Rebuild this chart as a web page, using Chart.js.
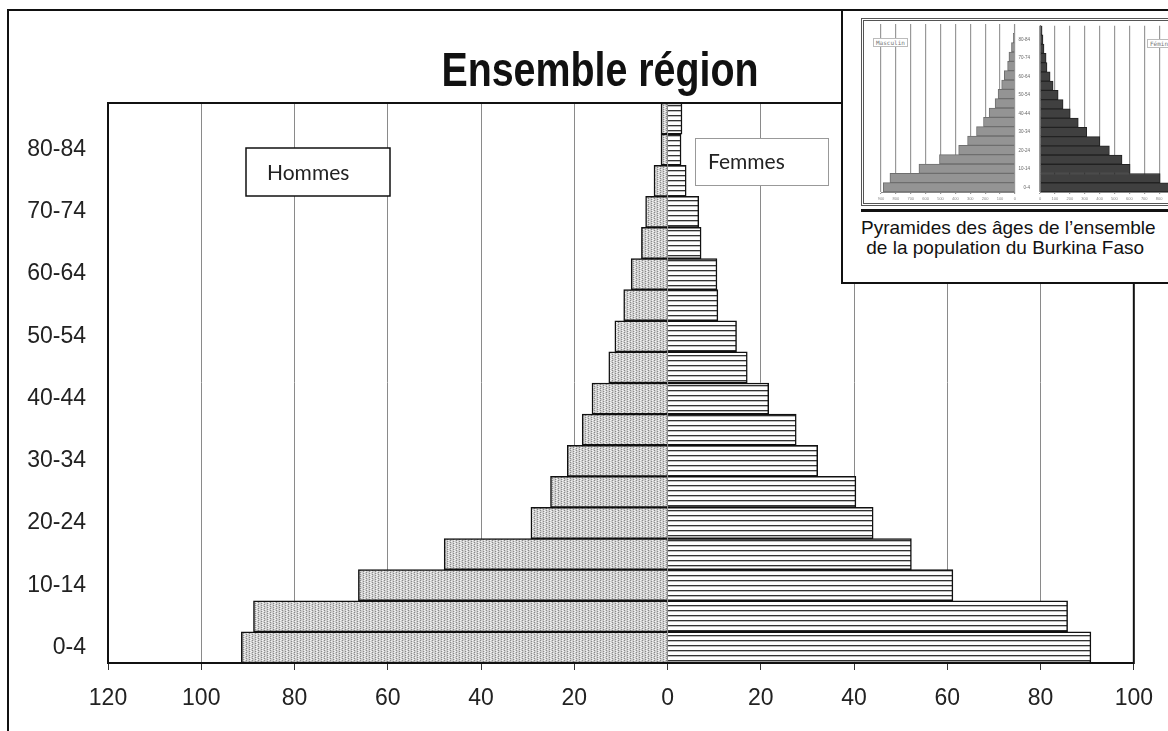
<!DOCTYPE html>
<html>
<head>
<meta charset="utf-8">
<script src="https://cdn.jsdelivr.net/npm/chart.js@4.4.1/dist/chart.umd.min.js"></script>
<style>
html, body { margin: 0; padding: 0; background: #fff; }
body { width: 1168px; height: 731px; position: relative; overflow: hidden; }
#page { position: absolute; left: 7px; top: 9px; width: 2000px; height: 2000px; border-left: 2px solid #111; border-top: 2px solid #111; }
#main { position: absolute; left: 0; top: 0; }
#inset { position: absolute; left: 841px; top: 9px; width: 340px; height: 271px; border: 2px solid #111; background: #fff; overflow: hidden; }
#pic { position: absolute; left: 18px; top: 7px; width: 330px; height: 182px; border: 3px double #555; overflow: hidden; background: #fff; }
#pic canvas { position: absolute; top: 0; }
#rule { position: absolute; left: 18px; top: 198px; width: 330px; border-top: 3px solid #111; }
#caption { position: absolute; left: 18px; top: 207px; font: 19px "Liberation Sans", Arial, sans-serif; line-height: 20px; color: #111; white-space: nowrap; }
.tag { position: absolute; font: 6px "DejaVu Sans Mono", monospace; color: #777; border: 1px solid #bbb; padding: 0 2px; background: #fff; line-height: 7px; }
</style>
</head>
<body>
<div id="page"></div>
<canvas id="main" width="1168" height="731"></canvas>
<div id="inset">
  <div id="pic">
    <canvas id="insetH" width="154" height="182" style="left:0"></canvas>
    <canvas id="insetF" width="170" height="182" style="left:154px"></canvas>
    <span class="tag" style="left:9px;top:17px">Masculin</span>
    <span class="tag" style="left:283px;top:18px">Féminin</span>
  </div>
  <div id="rule"></div>
  <div id="caption">Pyramides des âges de l’ensemble<br>&nbsp;de la population du Burkina Faso</div>
</div>
<script>
// données (effectifs, ensemble région)
var ageGroups = ['0-4', '5-9', '10-14', '15-19', '20-24', '25-29', '30-34', '35-39', '40-44',
    '45-49', '50-54', '55-59', '60-64', '65-69', '70-74', '75-79', '80-84', '85+'];
var hommes = [91.4, 88.8, 66.3, 47.9, 29.3, 25.1, 21.5, 18.3, 16.2, 12.6, 11.3, 9.4, 7.8, 5.6, 4.7, 2.9, 1.4, 1.4];
var femmes = [90.8, 85.8, 61.2, 52.3, 44.1, 40.4, 32.2, 27.6, 21.7, 17.1, 14.8, 10.8, 10.6, 7.2, 6.7, 4.0, 2.9, 3.1];

// petite pyramide du Burkina Faso (vignette)
var burkinaHommes = [885, 840, 645, 507, 378, 318, 258, 211, 173, 133, 113, 89, 71, 49, 40, 23, 11, 5];
var burkinaFemmes = [865, 807, 605, 551, 466, 402, 314, 257, 203, 155, 122, 88, 68, 47, 41, 27, 20, 14];

var arial = '"Liberation Sans", Arial, sans-serif';

// motifs de remplissage
function makePattern(w, h, draw) {
    var c = document.createElement('canvas');
    c.width = w; c.height = h;
    var g = c.getContext('2d');
    draw(g);
    return document.getElementById('main').getContext('2d').createPattern(c, 'repeat');
}
var motifHommes = makePattern(6, 4, function (g) {
    g.fillStyle = '#cfcfcf'; g.fillRect(0, 0, 6, 4);
    g.fillStyle = '#8a8a8a';
    [[0, 0], [0, 2], [3, 1], [3, 3]].forEach(function (p) { g.fillRect(p[0], p[1], 1, 1); });
    g.fillStyle = '#f2f2f2';
    [[1, 1], [4, 0], [4, 2], [5, 3]].forEach(function (p) { g.fillRect(p[0], p[1], 1, 1); });
});
var motifFemmes = makePattern(4, 5, function (g) {
    g.fillStyle = '#fff'; g.fillRect(0, 0, 4, 5);
    g.fillStyle = '#333'; g.fillRect(0, 0, 4, 1);
    g.fillStyle = '#bbb'; g.fillRect(0, 1, 4, 1);
});

// titre, cadre et étiquettes Hommes / Femmes
var decor = {
    id: 'decor',
    afterDraw: function (chart) {
        var ctx = chart.ctx, a = chart.chartArea;
        ctx.save();
        ctx.strokeStyle = '#111';
        ctx.lineWidth = 2;
        ctx.strokeRect(a.left, a.top, a.right - a.left, a.bottom - a.top);

        // titre étroit (police resserrée horizontalement)
        ctx.save();
        ctx.fillStyle = '#111';
        ctx.font = 'bold 48px ' + arial;
        ctx.textAlign = 'center';
        ctx.textBaseline = 'alphabetic';
        ctx.translate(600, 86);
        ctx.scale(0.82, 1);
        ctx.fillText('Ensemble région', 0, 0);
        ctx.restore();

        ctx.fillStyle = '#fff';
        ctx.fillRect(246, 148, 144, 48);
        ctx.lineWidth = 1.5;
        ctx.strokeStyle = '#111';
        ctx.strokeRect(246, 148, 144, 48);
        ctx.fillRect(695, 138, 133, 47);
        ctx.lineWidth = 1;
        ctx.strokeStyle = '#999';
        ctx.strokeRect(695.5, 138.5, 133, 47);

        ctx.fillStyle = '#222';
        ctx.font = '21px Lato, "Open Sans", sans-serif';
        ctx.textAlign = 'left';
        ctx.textBaseline = 'middle';
        ctx.fillText('Hommes', 267, 173);
        ctx.fillText('Femmes', 708, 162);
        ctx.restore();
    }
};

var mainChart = new Chart(document.getElementById('main').getContext('2d'), {
    type: 'bar',
    data: {
        labels: ageGroups,
        datasets: [{
            label: 'Hommes',
            data: hommes.map(function (v) { return -v; }),
            backgroundColor: motifHommes,
            borderColor: '#111',
            borderWidth: 1.5,
            barPercentage: 1,
            categoryPercentage: 1
        }, {
            label: 'Femmes',
            data: femmes,
            backgroundColor: motifFemmes,
            borderColor: '#111',
            borderWidth: 1.5,
            barPercentage: 1,
            categoryPercentage: 1
        }]
    },
    options: {
        indexAxis: 'y',
        responsive: false,
        animation: false,
        layout: { padding: { top: 103, right: 33, left: 0, bottom: 0 } },
        plugins: { legend: { display: false }, tooltip: { enabled: false } },
        scales: {
            x: {
                type: 'linear',
                min: -120,
                max: 100,
                stacked: true,
                afterFit: function (s) { s.height = 68; },
                ticks: {
                    stepSize: 20,
                    padding: 15,
                    color: '#222',
                    font: { family: arial, size: 23 },
                    callback: function (v) { return Math.abs(v); }
                },
                grid: { color: '#8a8a8a', lineWidth: 1, tickLength: 7, tickColor: '#333' },
                border: { color: '#111', width: 2 }
            },
            y: {
                type: 'category',
                stacked: true,
                reverse: true,
                afterFit: function (s) { s.width = 108; },
                grid: { display: false },
                border: { color: '#111', width: 2 },
                ticks: {
                    autoSkip: false,
                    padding: 14,
                    color: '#222',
                    font: { family: arial, size: 23 },
                    callback: function (v, i) { return i % 2 === 0 ? this.getLabelForValue(v) : ''; }
                }
            }
        }
    },
    plugins: [decor]
});

// vignette : côté masculin
var insetH = new Chart(document.getElementById('insetH').getContext('2d'), {
    type: 'bar',
    data: {
        labels: ageGroups,
        datasets: [{
            data: burkinaHommes,
            backgroundColor: '#949494',
            borderColor: '#6e6e6e',
            borderWidth: 1,
            barPercentage: 1,
            categoryPercentage: 1
        }]
    },
    options: {
        indexAxis: 'y',
        responsive: false,
        animation: false,
        layout: { padding: { left: 17, right: 1, top: 3, bottom: 0 } },
        plugins: { legend: { display: false }, tooltip: { enabled: false } },
        scales: {
            x: {
                reverse: true,
                min: 0,
                max: 900,
                afterFit: function (s) { s.height = 11; },
                ticks: { stepSize: 100, padding: 2, color: '#888', font: { size: 4 } },
                grid: { color: '#999', lineWidth: 1.2, tickLength: 2 },
                border: { color: '#888' }
            },
            y: { display: false, reverse: true }
        }
    }
});

// vignette : côté féminin
var insetF = new Chart(document.getElementById('insetF').getContext('2d'), {
    type: 'bar',
    data: {
        labels: ageGroups,
        datasets: [{
            data: burkinaFemmes,
            backgroundColor: '#404040',
            borderColor: '#222',
            borderWidth: 1,
            barPercentage: 1,
            categoryPercentage: 1
        }]
    },
    options: {
        indexAxis: 'y',
        responsive: false,
        animation: false,
        layout: { padding: { left: 0, right: 14, top: 3, bottom: 0 } },
        plugins: { legend: { display: false }, tooltip: { enabled: false } },
        scales: {
            x: {
                min: 0,
                max: 900,
                afterFit: function (s) { s.height = 11; },
                ticks: { stepSize: 100, padding: 2, color: '#888', font: { size: 4 } },
                grid: { color: '#999', lineWidth: 1.2, tickLength: 2 },
                border: { color: '#888' }
            },
            y: {
                reverse: true,
                afterFit: function (s) { s.width = 22; },
                grid: { display: false },
                border: { color: '#888' },
                ticks: {
                    autoSkip: false,
                    padding: 2,
                    color: '#666',
                    font: { size: 4.5 },
                    callback: function (v, i) { return i % 2 === 0 ? this.getLabelForValue(v) : ''; }
                }
            }
        }
    }
});
</script>
</body>
</html>
